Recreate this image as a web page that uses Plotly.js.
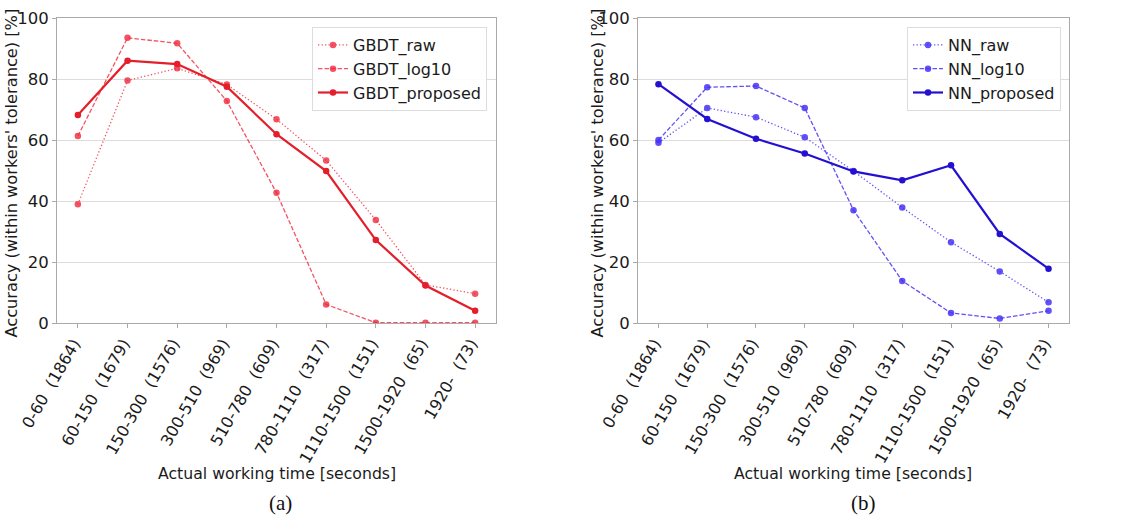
<!DOCTYPE html>
<html>
<head>
<meta charset="utf-8">
<script src="https://cdn.plot.ly/plotly-3.0.1.min.js"></script>
<style>html,body{margin:0;padding:0;background:#fff;}#chart{width:1131px;height:525px;}</style>
</head>
<body>
<div id="chart"></div>
<script>
const categories = ["0-60\u00a0\u00a0(1864)", "60-150\u00a0\u00a0(1679)", "150-300\u00a0\u00a0(1576)", "300-510\u00a0\u00a0(969)", "510-780\u00a0\u00a0(609)", "780-1110\u00a0\u00a0(317)", "1110-1500\u00a0\u00a0(151)", "1500-1920\u00a0\u00a0(65)", "1920-\u00a0\u00a0(73)"];

const gbdtRaw      = [38.9, 79.5, 83.5, 78.2, 66.8, 53.3, 33.8, 12.5, 9.6];
const gbdtLog10    = [61.3, 93.5, 91.7, 72.8, 42.7, 6.1, 0.1, 0.1, 0.1];
const gbdtProposed = [68.2, 86.0, 84.9, 77.5, 61.9, 49.8, 27.2, 12.3, 4.0];

const nnRaw      = [59.1, 70.5, 67.5, 60.9, 49.8, 37.9, 26.5, 16.9, 6.8];
const nnLog10    = [60.0, 77.3, 77.7, 70.5, 37.0, 13.8, 3.3, 1.5, 4.0];
const nnProposed = [78.3, 66.9, 60.4, 55.6, 49.7, 46.8, 51.7, 29.2, 17.8];

const seriesNames = {
  gbdt: ["GBDT_raw", "GBDT_log10", "GBDT_proposed"],
  nn: ["NN_raw", "NN_log10", "NN_proposed"]
};

const redLight = "rgba(240,40,60,0.8)";
const redSolid = "#e41e2a";
const blueLight = "rgba(70,50,245,0.85)";
const blueSolid = "#2410d2";

function tr(y, name, color, dash, width, xa, ya, legend) {
  return {
    x: categories, y: y, name: name, type: "scatter", mode: "lines+markers",
    line: {color: color, dash: dash, width: width},
    marker: {color: color, size: 6.5},
    xaxis: xa, yaxis: ya, legend: legend
  };
}

const data = [
  tr(gbdtRaw, seriesNames.gbdt[0], redLight, "1.3px,2.2px", 1.3, "x", "y", "legend"),
  tr(gbdtLog10, seriesNames.gbdt[1], redLight, "4.5px,2px", 1.3, "x", "y", "legend"),
  tr(gbdtProposed, seriesNames.gbdt[2], redSolid, "solid", 2.2, "x", "y", "legend"),
  tr(nnRaw, seriesNames.nn[0], blueLight, "1.3px,2.2px", 1.3, "x2", "y2", "legend2"),
  tr(nnLog10, seriesNames.nn[1], blueLight, "4.5px,2px", 1.3, "x2", "y2", "legend2"),
  tr(nnProposed, seriesNames.nn[2], blueSolid, "solid", 2.2, "x2", "y2", "legend2")
];

const W = 1131, H = 525;
const px = v => v / W;
const py = v => (H - v) / H;
const FAM = "DejaVu Sans";
const font = {family: FAM, size: 16, color: "#1a1a1a"};

function xaxis(l, r, anchor) {
  return {
    domain: [px(l), px(r)], anchor: anchor, type: "category",
    range: [-0.42, 8.42], tickangle: -60, tickfont: {family: FAM, size: 16, color: "#1a1a1a"},
    ticklabelshift: -4,
    showline: true, linecolor: "#aaaaaa", linewidth: 1, mirror: true,
    ticks: "outside", ticklen: 4, tickcolor: "#aaaaaa", showgrid: false, zeroline: false
  };
}
function yaxis(anchor) {
  return {
    domain: [py(323), py(18)], anchor: anchor, range: [0, 100], tickvals: [0, 20, 40, 60, 80, 100],
    tickfont: {family: FAM, size: 16.5, color: "#1a1a1a"},
    showline: true, linecolor: "#aaaaaa", linewidth: 1, mirror: true,
    ticks: "outside", ticklen: 4, tickcolor: "#aaaaaa",
    showgrid: true, gridcolor: "#dcdcdc", gridwidth: 1, zeroline: false
  };
}

const legendStyle = {
  bgcolor: "rgba(255,255,255,0.9)", bordercolor: "#dddddd", borderwidth: 1,
  font: {family: FAM, size: 16, color: "#1a1a1a"},
  xanchor: "right", yanchor: "top", tracegroupgap: 0, itemwidth: 30
};

const yTitleFont = {family: FAM, size: 16.2, color: "#1a1a1a"};
const xTitleFont = {family: FAM, size: 15.7, color: "#1a1a1a"};

const layout = {
  width: W, height: H, margin: {l: 0, r: 0, t: 0, b: 0},
  paper_bgcolor: "#ffffff", plot_bgcolor: "#ffffff", font: font,
  xaxis: xaxis(57, 496, "y"), yaxis: yaxis("x"),
  xaxis2: xaxis(638, 1069, "y2"), yaxis2: yaxis("x2"),
  legend: Object.assign({x: px(487), y: py(27)}, legendStyle),
  legend2: Object.assign({x: px(1061), y: py(27)}, legendStyle),
  showlegend: true,
  annotations: [
    {text: "Accuracy (within workers' tolerance) [%]", xref: "paper", yref: "paper", x: px(10.5), y: py(173), textangle: -90, showarrow: false, font: yTitleFont, xanchor: "center", yanchor: "middle"},
    {text: "Accuracy (within workers' tolerance) [%]", xref: "paper", yref: "paper", x: px(596.5), y: py(173), textangle: -90, showarrow: false, font: yTitleFont, xanchor: "center", yanchor: "middle"},
    {text: "Actual working time [seconds]", xref: "paper", yref: "paper", x: px(276.5), y: py(473), showarrow: false, font: xTitleFont, xanchor: "center", yanchor: "middle"},
    {text: "Actual working time [seconds]", xref: "paper", yref: "paper", x: px(853.5), y: py(473), showarrow: false, font: xTitleFont, xanchor: "center", yanchor: "middle"},
    {text: "(a)", xref: "paper", yref: "paper", x: px(280), y: py(503), showarrow: false, font: {family: "Liberation Serif", size: 21, color: "#111111"}, xanchor: "center", yanchor: "middle"},
    {text: "(b)", xref: "paper", yref: "paper", x: px(863), y: py(503), showarrow: false, font: {family: "Liberation Serif", size: 21, color: "#111111"}, xanchor: "center", yanchor: "middle"}
  ]
};

Plotly.newPlot("chart", data, layout, {staticPlot: true, displayModeBar: false});
</script>
</body>
</html>
